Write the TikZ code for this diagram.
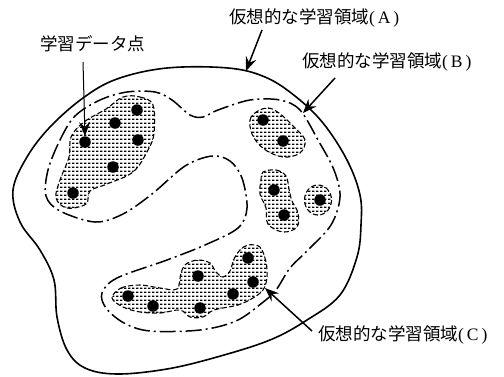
\documentclass[tikz,border=0pt]{standalone}
\usepackage{fontspec}
\setmainfont{Liberation Serif}
\newfontfamily\cjk{Noto Sans CJK JP}
\usetikzlibrary{arrows.meta,patterns.meta}
\tikzdeclarepattern{
  name=hrows,
  type=uncolored,
  bounding box={(0pt,0pt) and (4pt,4.2pt)},
  tile size={(4pt,4.2pt)},
  code={\pgfpathrectangle{\pgfpoint{0.2pt}{1.4pt}}{\pgfpoint{2.6pt}{1.4pt}}\pgfusepath{fill}}
}
\tikzset{
  outerA/.style={line width=1.6pt},
  bline/.style={line width=1.5pt, dash pattern=on 16pt off 4pt on 2pt off 4pt},
  blob/.style={draw, line width=1.1pt, dash pattern=on 5pt off 2.5pt, pattern=hrows},
  dotpt/.style={circle, fill=black, inner sep=0pt, minimum size=11.5pt},
  lbl/.style={inner sep=0pt, font=\fontsize{17.5}{20}\selectfont},
  arr/.style={line width=1.5pt, -{Stealth[length=14pt,width=11pt,inset=5pt]}},
  thinarr/.style={line width=1pt, -{Stealth[length=14pt,width=11pt,inset=5pt]}}
}
\begin{document}
\begin{tikzpicture}[x=1pt,y=-1pt]
\useasboundingbox (0,0) rectangle (504,376);
\fill[white] (0,0) rectangle (504,376);

% outer solid region (A)
\draw[outerA] plot[smooth cycle, tension=0.6] coordinates{
 (13,190) (27,157) (50,127) (83,98) (117,79) (167,68) (228,68) (265,77) (295,96)
 (323,123) (347,160) (360,195) (361,225) (357,257) (340,295) (307,320) (270,340)
 (217,357) (167,369) (117,374) (85,368) (67,350) (57,317) (54,280) (40,250) (20,222)};

% dash-dot region (B)
\draw[bline] plot[smooth cycle, tension=0.55] coordinates{
 (48,170) (60,140) (75,116) (100,100) (127,92) (155,92) (172,100) (190,115) (203,117)
 (218,110) (250,100) (280,100) (300,110) (318,140) (334,170) (340,197) (331,225)
 (308,250) (290,268) (276,290) (262,303) (236,321) (200,330) (150,331) (124,323)
 (106,308) (102,293) (117,278) (167,260) (205,245) (238,228) (247,208) (242,178)
 (230,161) (212,156) (185,166) (152,194) (123,214) (95,222) (60,211) (46,196)};

% clusters of learning data
\draw[blob] plot[smooth cycle, tension=0.6] coordinates{
 (123,97) (140,97) (153,105) (154,133) (148,150) (133,172) (107,184) (90,191)
 (86,204) (67,208) (56,198) (60,180) (69,157) (71,137) (84,122) (106,109)};
\draw[blob] plot[smooth cycle, tension=0.6] coordinates{
 (266,108) (251,117) (252,134) (264,149) (283,157) (300,153) (305,140) (294,127) (279,113)};
\draw[blob] plot[smooth cycle, tension=0.6] coordinates{
 (263,172) (276,170) (286,176) (289,189) (292,201) (298,213) (297,227) (283,232)
 (268,224) (266,208) (260,194) (261,180)};
\draw[blob] (318,200) ellipse[x radius=13.5, y radius=15];
\draw[blob] plot[smooth cycle, tension=0.55] coordinates{
 (112,298) (121,288) (140,285) (160,288) (177,289) (181,273) (186,264) (198,260)
 (210,263) (216,272) (223,277) (230,271) (234,259) (240,250) (248,245) (260,247)
 (266,262) (267,278) (263,290) (253,298) (238,305) (214,310) (203,317) (190,317)
 (180,310) (160,313) (140,312) (123,307)};

% data points
\foreach \n/\p in {p1/{(137,110)}, p2/{(115,123)}, p3/{(138,140)}, p4/{(85,142)},
  p5/{(113,167)}, p6/{(73,193)}, p7/{(263,120)}, p8/{(283,141)}, p9/{(274,190)},
  p10/{(284,215)}, p11/{(320,200)}, p12/{(128,296)}, p13/{(153,306)}, p14/{(198,276)},
  p15/{(200,308)}, p16/{(233,294)}, p17/{(248,258)}, p18/{(253,282)}}
  \node[dotpt] (\n) at \p {};

% labels
\node[lbl] (labD) at (93,44) {\cjk 学習データ点};
\node[lbl, anchor=west] (labA) at (229,18) {{\cjk 仮想的な学習領域}(\,A\,)};
\node[lbl, anchor=west] (labB) at (302,62) {{\cjk 仮想的な学習領域}(\,B\,)};
\node[lbl, anchor=west] (labC) at (318,335) {{\cjk 仮想的な学習領域}(\,C\,)};

% arrows
\coordinate (dT) at (83,62);
\coordinate (aT) at (262,30);
\coordinate (aH) at (246,71);
\coordinate (bT) at (335,78);
\coordinate (bH) at (303,113);
\coordinate (cT) at (312,331);
\coordinate (cH) at (265,288);
\draw[thinarr] (dT) -- (p4.north);
\draw[arr] (aT) -- (aH);
\draw[arr] (bT) -- (bH);
\draw[arr] (cT) -- (cH);
\end{tikzpicture}
\end{document}
